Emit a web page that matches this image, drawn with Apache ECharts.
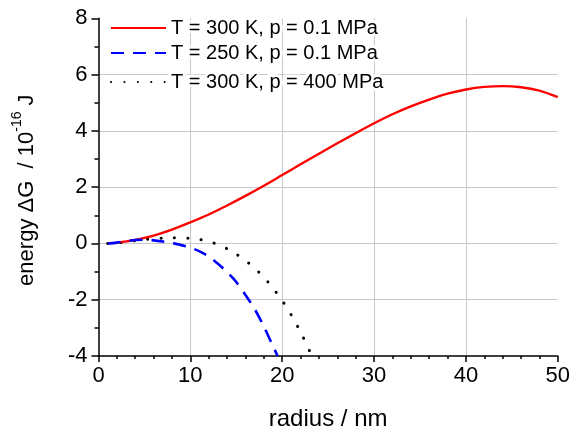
<!DOCTYPE html>
<html><head><meta charset="utf-8">
<script src="https://cdn.jsdelivr.net/npm/echarts@6/dist/echarts.min.js"></script>
<style>html,body{margin:0;padding:0;background:#fff}#c{width:573px;height:436px}</style>
</head><body><div id="c"></div>
<script>
const seriesNames = ['T = 300 K, p = 0.1 MPa', 'T = 250 K, p = 0.1 MPa', 'T = 300 K, p = 400 MPa'];

const radiusRed = [1, 2, 4, 6, 8, 10, 12, 14, 16, 18, 20, 22, 24, 26, 28, 30, 32, 34, 36, 38, 40, 42, 44, 46, 48, 50];
const energyRed = [0.01, 0.03, 0.13, 0.28, 0.49, 0.75, 1.03, 1.35, 1.69, 2.05, 2.43, 2.81, 3.19, 3.56, 3.92, 4.27, 4.59, 4.87, 5.11, 5.32, 5.47, 5.56, 5.59, 5.55, 5.43, 5.20];

const radiusBlue = [1, 2, 3, 4, 5, 6, 7, 8, 9, 10, 11, 12, 13, 14, 15, 16, 17, 18, 19, 19.5];
const energyBlue = [0, 0.03, 0.08, 0.12, 0.13, 0.11, 0.07, 0.02, -0.06, -0.15, -0.28, -0.46, -0.72, -1.02, -1.37, -1.83, -2.33, -2.95, -3.65, -4.0];

const radiusBlack = [1, 2, 3, 4, 5, 6, 7, 8, 9, 10, 11, 12, 13, 14, 15, 16, 17, 18, 19, 20, 21, 22, 23, 23.3];
const energyBlack = [0, 0.02, 0.05, 0.10, 0.14, 0.17, 0.19, 0.20, 0.20, 0.18, 0.14, 0.07, -0.04, -0.19, -0.38, -0.61, -0.88, -1.20, -1.59, -2.03, -2.55, -3.15, -3.83, -4.0];

const xMin = 0, xMax = 50, xStep = 10;
const yMin = -4, yMax = 8, yStep = 2;

const FONT = '"Liberation Sans", Arial, sans-serif';
const pairs = (xs, ys) => xs.map((x, i) => [x, ys[i]]);

const axisLineStyle = { color: '#000', width: 1.5 };
const gridLineStyle = { color: '#c8c8c8', width: 1 };

const legendCommon = {
  orient: 'horizontal', padding: 0, itemWidth: 55, itemHeight: 14, selectedMode: false,
  itemStyle: { opacity: 0 },
  textStyle: { fontSize: 20, color: '#000', fontFamily: FONT, lineHeight: 22,
    textBorderColor: '#fff', textBorderWidth: 6 }
};

const chart = echarts.init(document.getElementById('c'), null, { renderer: 'canvas' });
chart.setOption({
  backgroundColor: '#fff',
  animation: false,
  textStyle: { fontFamily: FONT },
  grid: { left: 98.5, right: 14.7, top: 18.3, bottom: 77.7 },
  legend: [
    Object.assign({ data: [seriesNames[0]], left: 110, top: 15 }, legendCommon),
    Object.assign({ data: [seriesNames[1]], left: 110, top: 40 }, legendCommon),
    Object.assign({ data: [seriesNames[2]], left: 110, top: 69 }, legendCommon)
  ],
  xAxis: {
    type: 'value', min: xMin, max: xMax, interval: xStep,
    axisLine: { show: true, onZero: false, lineStyle: axisLineStyle },
    axisTick: { show: true, length: 6, lineStyle: axisLineStyle },
    minorTick: { show: true, splitNumber: 5, length: 3, lineStyle: axisLineStyle },
    splitLine: { show: true, showMinLine: false, showMaxLine: false, lineStyle: gridLineStyle },
    axisLabel: { fontSize: 22, color: '#000', margin: 9, fontFamily: FONT },
    name: 'radius / nm', nameLocation: 'middle', nameGap: 51,
    nameTextStyle: { fontSize: 24, color: '#000', fontFamily: FONT }
  },
  yAxis: {
    type: 'value', min: yMin, max: yMax, interval: yStep,
    axisLine: { show: true, onZero: false, lineStyle: axisLineStyle },
    axisTick: { show: true, length: 7, lineStyle: axisLineStyle },
    minorTick: { show: true, splitNumber: 2, length: 4, lineStyle: axisLineStyle },
    splitLine: { show: true, showMinLine: false, showMaxLine: false, lineStyle: gridLineStyle },
    axisLabel: { fontSize: 22, color: '#000', margin: 11, fontFamily: FONT },
    name: '{a|energy ΔG  / 10}{s|-16}{a| J}', nameLocation: 'middle', nameRotate: 90, nameGap: 56,
    nameTextStyle: {
      color: '#000', fontFamily: FONT, padding: [0, 6, 0, 0],
      rich: {
        a: { fontSize: 22, lineHeight: 32, color: '#000', fontFamily: FONT },
        s: { fontSize: 14, lineHeight: 14, verticalAlign: 'top', color: '#000', fontFamily: FONT }
      }
    }
  },
  series: [
    { name: seriesNames[0], type: 'line', data: pairs(radiusRed, energyRed), smooth: 0.3,
      symbol: 'none', clip: true, lineStyle: { color: '#ff0000', width: 2.3 }, itemStyle: { color: '#ff0000' }, z: 3 },
    { name: seriesNames[1], type: 'line', data: pairs(radiusBlue, energyBlue), smooth: 0.3,
      symbol: 'none', clip: true, lineStyle: { color: '#0000ff', width: 2.6, type: [13, 9] }, itemStyle: { color: '#0000ff' }, z: 4 },
    { name: seriesNames[2], type: 'line', data: pairs(radiusBlack, energyBlack), smooth: 0.3,
      symbol: 'none', clip: true, lineStyle: { color: '#000', width: 3, type: [0.1, 13.3], cap: 'round' }, itemStyle: { color: '#000' }, z: 2 }
  ]
});
</script>
</body></html>
